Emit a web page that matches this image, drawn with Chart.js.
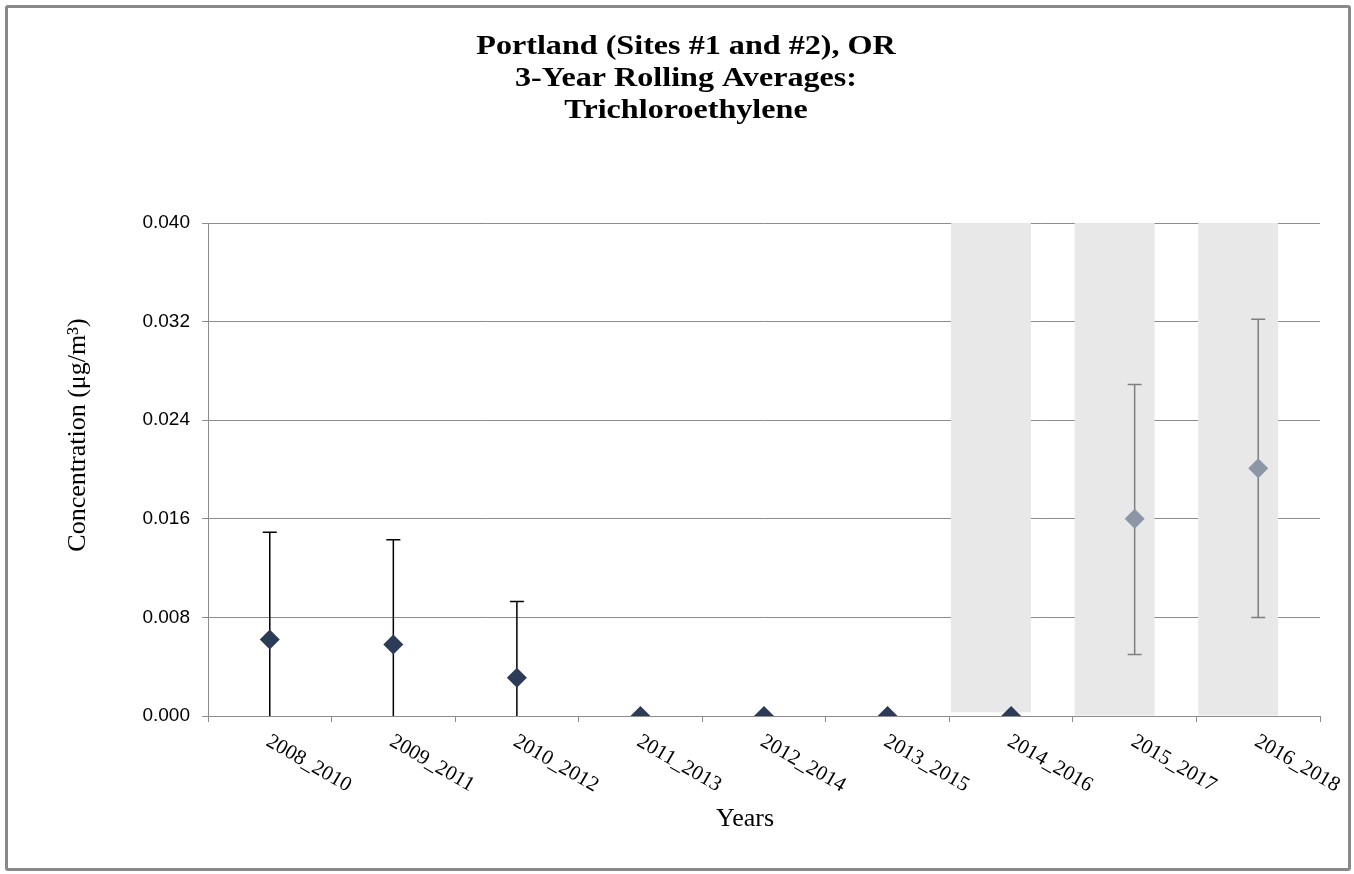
<!DOCTYPE html>
<html>
<head>
<meta charset="utf-8">
<script src="https://cdn.jsdelivr.net/npm/chart.js@4.4.0/dist/chart.umd.min.js"></script>
<style>
  body { margin: 0; background: #fff; }
  #moldura { position: absolute; left: 5px; top: 5px; width: 1340px; height: 860px; border: 3px solid #898989; border-radius: 3px; }
  #grafico { position: absolute; left: 0; top: 0; }
</style>
</head>
<body>
<div id="moldura"></div>
<canvas id="grafico" width="1354" height="874"></canvas>
<script>
// dados do grafico - medias moveis de 3 anos
var titulo = ['Portland (Sites #1 and #2), OR', '3-Year Rolling Averages:', 'Trichloroethylene'];
var tituloX = 'Years';
var tituloY = 'Concentration (μg/m³)';
var periodos = ['2008_2010', '2009_2011', '2010_2012', '2011_2013', '2012_2014', '2013_2015', '2014_2016', '2015_2017', '2016_2018'];
var medias = [0.0062, 0.0058, 0.0031, 0, 0, 0, 0, 0.0160, 0.0201];
var erroSup = [0.0149, 0.0143, 0.0093, null, null, null, null, 0.0269, 0.0322];
var erroInf = [0, 0, 0, null, null, null, null, 0.0050, 0.0080];
var faixa = [null, null, null, null, null, null, [0.0003, 0.040], [0, 0.040], [0, 0.040]]; // periodos destacados
var ticksY = [0, 0.008, 0.016, 0.024, 0.032, 0.040];

var corEscura = '#2c3b57';
var corClara = '#8d96a6';
var corPonto = [];
for (var i = 0; i < medias.length; i++) {
  corPonto.push(i >= 7 ? corClara : corEscura);
}

// titulos, barras de erro e rotulos inclinados
const extras = {
  id: 'extras',
  afterDatasetDraw(chart, args) {
    if (args.index !== 1) return; // depois das faixas cinzas, antes dos pontos
    const ctx = chart.ctx, x = chart.scales.x, y = chart.scales.y;
    ctx.save();
    for (var i = 0; i < medias.length; i++) {
      if (erroSup[i] === null) continue;
      var px = x.getPixelForValue(i);
      var top = y.getPixelForValue(erroSup[i]);
      var bot = y.getPixelForValue(erroInf[i]);
      ctx.strokeStyle = i >= 7 ? '#7f7f7f' : '#000';
      ctx.lineWidth = 1.5;
      ctx.beginPath();
      ctx.moveTo(px, top); ctx.lineTo(px, bot);
      ctx.moveTo(px - 7, top); ctx.lineTo(px + 7, top);
      if (erroInf[i] > 0) { ctx.moveTo(px - 7, bot); ctx.lineTo(px + 7, bot); }
      ctx.stroke();
    }
    ctx.restore();
  },
  afterDraw(chart) {
    const ctx = chart.ctx, x = chart.scales.x;
    ctx.save();
    ctx.fillStyle = '#000';
    ctx.textAlign = 'center';
    ctx.textBaseline = 'middle';
    // titulo (um pouco esticado na horizontal, como no original)
    ctx.font = 'bold 27px "Liberation Serif"';
    for (var t = 0; t < titulo.length; t++) {
      ctx.save();
      ctx.translate(686, 47 + t * 32);
      ctx.scale(1.19, 1);
      ctx.fillText(titulo[t], 0, 0);
      ctx.restore();
    }
    // titulos dos eixos
    ctx.font = '26px "Liberation Serif"';
    ctx.fillText(tituloX, 745, 819);
    ctx.save();
    ctx.translate(78, 435);
    ctx.rotate(-Math.PI / 2);
    ctx.fillText(tituloY, 0, 0);
    ctx.restore();
    // rotulos do eixo x
    ctx.font = '21px "Liberation Serif"';
    ctx.textAlign = 'left';
    for (var i = 0; i < periodos.length; i++) {
      ctx.save();
      ctx.translate(x.getPixelForTick(i) - 2, x.top + 24);
      ctx.rotate(30 * Math.PI / 180);
      ctx.fillText(periodos[i], 0, 0);
      ctx.restore();
    }
    ctx.restore();
  }
};

new Chart(document.getElementById('grafico'), {
  data: {
    labels: periodos,
    datasets: [
      {
        type: 'scatter',
        data: medias,
        pointStyle: 'rectRot',
        pointRadius: 10,
        pointHoverRadius: 10,
        backgroundColor: corPonto,
        borderColor: corPonto,
        borderWidth: 0,
        showLine: false,
        order: 0
      },
      {
        type: 'bar',
        data: faixa,
        backgroundColor: '#e8e8e8',
        categoryPercentage: 0.65,
        barPercentage: 1.99,
        order: 2
      },
      {
        type: 'bar',
        data: [],
        order: 3
      }
    ]
  },
  plugins: [extras],
  options: {
    responsive: false,
    animation: false,
    events: [],
    layout: { padding: { left: 63, right: 34, top: 223, bottom: 38 } },
    plugins: {
      legend: { display: false },
      tooltip: { enabled: false },
      title: { display: false }
    },
    scales: {
      x: {
        type: 'category',
        offset: true,
        grid: { offset: true, drawOnChartArea: false, color: '#8c8c8c', tickLength: 6 },
        border: { color: '#8c8c8c' },
        ticks: { display: false },
        afterFit: function (s) { s.height = 120; }
      },
      y: {
        min: 0,
        max: 0.04,
        afterBuildTicks: function (s) { s.ticks = ticksY.map(function (v) { return { value: v }; }); },
        ticks: {
          color: '#000',
          padding: 12,
          font: { family: '"Liberation Sans"', size: 19 },
          callback: function (v) { return v.toFixed(3); }
        },
        grid: { color: '#8c8c8c', tickLength: 6 },
        border: { color: '#8c8c8c' },
        afterFit: function (s) { s.width = 145; }
      }
    }
  }
});
</script>
</body>
</html>
